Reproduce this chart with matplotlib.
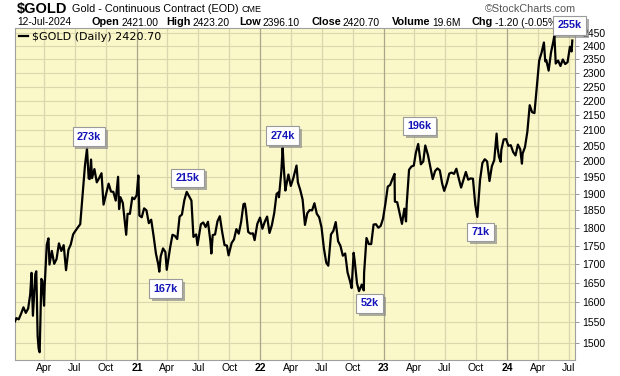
import matplotlib
matplotlib.use("Agg")
import matplotlib.pyplot as plt
import matplotlib.patheffects as pe
from matplotlib.ticker import FixedLocator, FixedFormatter, NullLocator
import datetime as dt

# ---------------- data ----------------
dates = [
 "2020-01-06","2020-01-10","2020-01-17","2020-01-24","2020-01-31","2020-02-07","2020-02-14","2020-02-20","2020-02-24","2020-02-28",
 "2020-03-06","2020-03-09","2020-03-13","2020-03-16","2020-03-19","2020-03-24","2020-03-27","2020-04-01","2020-04-03","2020-04-09",
 "2020-04-14","2020-04-17","2020-04-24","2020-05-01","2020-05-08","2020-05-15","2020-05-22","2020-05-29","2020-06-05","2020-06-12",
 "2020-06-19","2020-06-26","2020-07-02","2020-07-10","2020-07-17","2020-07-24","2020-07-31","2020-08-06","2020-08-07","2020-08-11",
 "2020-08-14","2020-08-18","2020-08-21","2020-08-28","2020-09-04","2020-09-11","2020-09-18","2020-09-24","2020-10-02","2020-10-09",
 "2020-10-16","2020-10-23","2020-10-30","2020-11-06","2020-11-09","2020-11-13","2020-11-20","2020-11-30","2020-12-04","2020-12-11",
 "2020-12-18","2020-12-24","2020-12-31",
 "2021-01-05","2021-01-08","2021-01-15","2021-01-22","2021-01-29","2021-02-05","2021-02-12","2021-02-19","2021-02-26","2021-03-05",
 "2021-03-08","2021-03-12","2021-03-19","2021-03-26","2021-03-30","2021-04-09","2021-04-16","2021-04-23","2021-04-30","2021-05-07",
 "2021-05-14","2021-05-21","2021-05-28","2021-06-04","2021-06-11","2021-06-17","2021-06-25","2021-06-29","2021-07-09","2021-07-16",
 "2021-07-23","2021-07-30","2021-08-06","2021-08-09","2021-08-13","2021-08-20","2021-08-27","2021-09-03","2021-09-10","2021-09-17",
 "2021-09-24","2021-09-29","2021-10-08","2021-10-15","2021-10-22","2021-10-29","2021-11-05","2021-11-12","2021-11-16","2021-11-19",
 "2021-11-26","2021-12-03","2021-12-10","2021-12-15","2021-12-23","2021-12-31",
 "2022-01-07","2022-01-14","2022-01-21","2022-01-28","2022-02-04","2022-02-11","2022-02-18","2022-02-24","2022-02-25","2022-03-04",
 "2022-03-08","2022-03-11","2022-03-16","2022-03-18","2022-03-25","2022-04-01","2022-04-08","2022-04-18","2022-04-22","2022-04-29",
 "2022-05-06","2022-05-13","2022-05-20","2022-05-27","2022-06-03","2022-06-10","2022-06-17","2022-06-24","2022-07-01","2022-07-08",
 "2022-07-15","2022-07-21","2022-07-29","2022-08-05","2022-08-12","2022-08-19","2022-08-26","2022-09-02","2022-09-09","2022-09-16",
 "2022-09-23","2022-09-28","2022-10-04","2022-10-07","2022-10-14","2022-10-20","2022-10-28","2022-11-03","2022-11-04","2022-11-11",
 "2022-11-18","2022-11-25","2022-12-02","2022-12-09","2022-12-16","2022-12-23","2022-12-30",
 "2023-01-06","2023-01-13","2023-01-20","2023-01-27","2023-02-02","2023-02-03","2023-02-10","2023-02-17","2023-02-24","2023-03-03",
 "2023-03-08","2023-03-10","2023-03-17","2023-03-24","2023-03-31","2023-04-06","2023-04-13","2023-04-21","2023-04-28","2023-05-04",
 "2023-05-12","2023-05-19","2023-05-26","2023-06-02","2023-06-09","2023-06-16","2023-06-23","2023-06-29","2023-07-07","2023-07-14",
 "2023-07-21","2023-07-28","2023-08-04","2023-08-11","2023-08-18","2023-08-25","2023-09-01","2023-09-08","2023-09-15","2023-09-22",
 "2023-09-29","2023-10-05","2023-10-13","2023-10-20","2023-10-27","2023-11-03","2023-11-10","2023-11-17","2023-11-24","2023-12-01",
 "2023-12-04","2023-12-08","2023-12-13","2023-12-15","2023-12-22","2023-12-29",
 "2024-01-05","2024-01-12","2024-01-19","2024-01-26","2024-02-02","2024-02-09","2024-02-14","2024-02-16","2024-02-23","2024-03-01",
 "2024-03-08","2024-03-15","2024-03-22","2024-03-28","2024-04-05","2024-04-12","2024-04-19","2024-04-23","2024-04-26","2024-05-03",
 "2024-05-10","2024-05-17","2024-05-20","2024-05-24","2024-05-31","2024-06-07","2024-06-14","2024-06-21","2024-06-28","2024-07-05",
 "2024-07-10","2024-07-12",
]
close = [
 1552,1560,1557,1571,1587,1573,1584,1620,1676,1566,
 1672,1680,1516,1486,1478,1660,1655,1591,1645,1752,
 1770,1698,1735,1700,1713,1756,1735,1751,1683,1738,
 1753,1781,1790,1801,1810,1897,1986,2040,2020,1946,
 1944,2005,1947,1975,1934,1947,1962,1867,1900,1930,
 1906,1905,1879,1951,1854,1889,1872,1780,1840,1840,
 1888,1883,1895,
 1955,1835,1830,1856,1850,1813,1823,1777,1728,1698,
 1679,1720,1742,1732,1684,1744,1780,1777,1768,1832,
 1838,1880,1905,1892,1879,1774,1781,1751,1810,1815,
 1802,1817,1763,1728,1779,1781,1818,1833,1788,1751,
 1750,1723,1757,1767,1796,1783,1816,1868,1870,1852,
 1788,1783,1784,1765,1811,1829,
 1797,1817,1832,1785,1807,1842,1899,1904,1889,1967,
 2043,1985,1909,1921,1958,1923,1945,1986,1934,1911,
 1882,1808,1842,1851,1850,1871,1840,1830,1801,1742,
 1703,1695,1781,1791,1816,1762,1749,1722,1728,1677,
 1655,1636,1730,1709,1648,1628,1645,1630,1676,1771,
 1754,1754,1809,1810,1800,1805,1826,
 1870,1921,1926,1945,1960,1876,1874,1842,1811,1855,
 1818,1868,1973,1983,1986,2026,2055,1990,1999,2050,
 2019,1981,1944,1969,1977,1971,1930,1908,1932,1961,
 1964,1960,1976,1946,1918,1942,1966,1942,1946,1945,
 1866,1831,1941,1994,2006,1999,1938,1984,2003,2089,
 2043,2014,1998,2036,2070,2071,
 2049,2051,2029,2018,2053,2038,1992,2024,2045,2095,
 2185,2161,2158,2238,2345,2374,2413,2342,2347,2308,
 2375,2418,2440,2334,2345,2325,2349,2332,2339,2397,
 2379,2420.7,
]

vol_labels = ["273k", "167k", "215k", "274k", "52k", "196k", "71k", "255k"]
vol_dates = ["2020-08-06", "2021-03-08", "2021-05-28", "2022-03-08",
             "2022-11-03", "2023-04-13", "2023-10-05", "2024-05-20"]

y_ticks = list(range(1500, 2451, 50))
x_tick_dates = ["2020-04-01", "2020-07-01", "2020-10-01", "2021-01-01", "2021-04-01", "2021-07-01",
                "2021-10-01", "2022-01-01", "2022-04-01", "2022-07-01", "2022-10-01", "2023-01-01",
                "2023-04-01", "2023-07-01", "2023-10-01", "2024-01-01", "2024-04-01", "2024-07-01"]
x_tick_labels = ["Apr", "Jul", "Oct", "21", "Apr", "Jul", "Oct", "22", "Apr", "Jul", "Oct", "23",
                 "Apr", "Jul", "Oct", "24", "Apr", "Jul"]

header_items = [("Open", "2421.00"), ("High", "2423.20"), ("Low", "2396.10"),
                ("Close", "2420.70"), ("Volume", "19.6M"), ("Chg", "-1.20 (-0.05%)")]

# ---------------- figure ----------------
def d(s):
    return dt.datetime.strptime(s, "%Y-%m-%d")

W, H = 620, 376
fig = plt.figure(figsize=(W / 100, H / 100), dpi=100)
fig.patch.set_facecolor("white")
ax = fig.add_axes([15 / W, 1 - 360 / H, 560 / W, 332 / H])
ax.set_facecolor("#FAF7C9")

FONT = ["Liberation Sans", "DejaVu Sans"]

xd = [d(s) for s in dates]
ax.set_yscale("log")
ax.set_ylim(1460, 2469)
ax.set_xlim(d("2020-01-06"), d("2024-07-20"))

# grid
for t in y_ticks:
    ax.axhline(t, color="#DAD7AE", lw=0.8, zorder=0)
for s, lab in zip(x_tick_dates, x_tick_labels):
    ax.axvline(d(s), color="#A9A78A" if lab.isdigit() else "#DAD7AE", lw=0.9, zorder=0)

ax.plot(xd, close, color="black", lw=1.6, zorder=3, label="$GOLD (Daily) 2420.70")

# axes styling
for sp in ax.spines.values():
    sp.set_color("#A0A0A0")
    sp.set_linewidth(0.8)

ax.yaxis.tick_right()
ax.yaxis.set_major_locator(FixedLocator(y_ticks))
ax.yaxis.set_major_formatter(FixedFormatter([str(t) for t in y_ticks]))
ax.yaxis.set_minor_locator(NullLocator())
ax.tick_params(axis="y", which="major", length=3, width=0.6, color="#888888", pad=2,
               labelsize=7.5)
for lbl in ax.get_yticklabels():
    lbl.set_family(FONT)

ax.xaxis.set_major_locator(FixedLocator([matplotlib.dates.date2num(d(s)) for s in x_tick_dates]))
ax.xaxis.set_major_formatter(FixedFormatter(x_tick_labels))
ax.xaxis.set_minor_locator(NullLocator())
ax.tick_params(axis="x", which="major", length=0, pad=2, labelsize=7.5)
for lbl, lab in zip(ax.get_xticklabels(), x_tick_labels):
    lbl.set_family(FONT)
    if lab.isdigit():
        lbl.set_fontweight("bold")

ax.legend(loc="upper left", frameon=False, handlelength=0.8, handletextpad=0.4,
          borderaxespad=0.15, borderpad=0.2, prop={"family": "DejaVu Sans", "size": 8})

# volume annotations
offsets = [(2, 12), (6, -17), (1, 14), (0, 12), (6, -13), (1, 18), (3, -15), (15, 10)]
for lab, sd, off in zip(vol_labels, vol_dates, offsets):
    i = dates.index(sd)
    a = ax.annotate(lab, xy=(xd[i], close[i]), xytext=off, textcoords="offset pixels",
                    ha="center", va="center", fontsize=7.8, fontweight="bold",
                    family=FONT, color="#1414B8", zorder=10, annotation_clip=False,
                    bbox=dict(boxstyle="square,pad=0.4", fc="white", ec="#9A9A9A", lw=0.8))
    a.get_bbox_patch().set_path_effects(
        [pe.withSimplePatchShadow(offset=(2, -2), shadow_rgbFace="#8C8C8C", alpha=0.7)])

# header texts placed one after the other
renderer = fig.canvas.get_renderer()

def ftext(x, y, s, size, **kw):
    kw.setdefault("family", FONT)
    t = fig.text(x / W, 1 - y / H, s, fontsize=size, va="center", ha="left", zorder=-1, **kw)
    return t, x + t.get_window_extent(renderer).width

_, x = ftext(17, 9, "$GOLD", 10.5, fontweight="bold")
_, x = ftext(x + 4, 9.5, "Gold - Continuous Contract (EOD)", 7.8)
_, x = ftext(x + 3, 10, "CME", 6.5)
t, _ = ftext(576, 9, "\u00a9StockCharts.com", 7.8, color="#555555")
t.set_ha("right")

starts = [92, 166, 239, 311, 392, 472]
_, x = ftext(17, 22, "12-Jul-2024", 7.4)
for (lab, val), sx in zip(header_items, starts):
    _, x = ftext(max(sx, x + 5), 22, lab, 7.8, fontweight="bold")
    _, x = ftext(x + 2, 22.5, val, 7.4)

fig.savefig("out.png", dpi=100, facecolor="white")
